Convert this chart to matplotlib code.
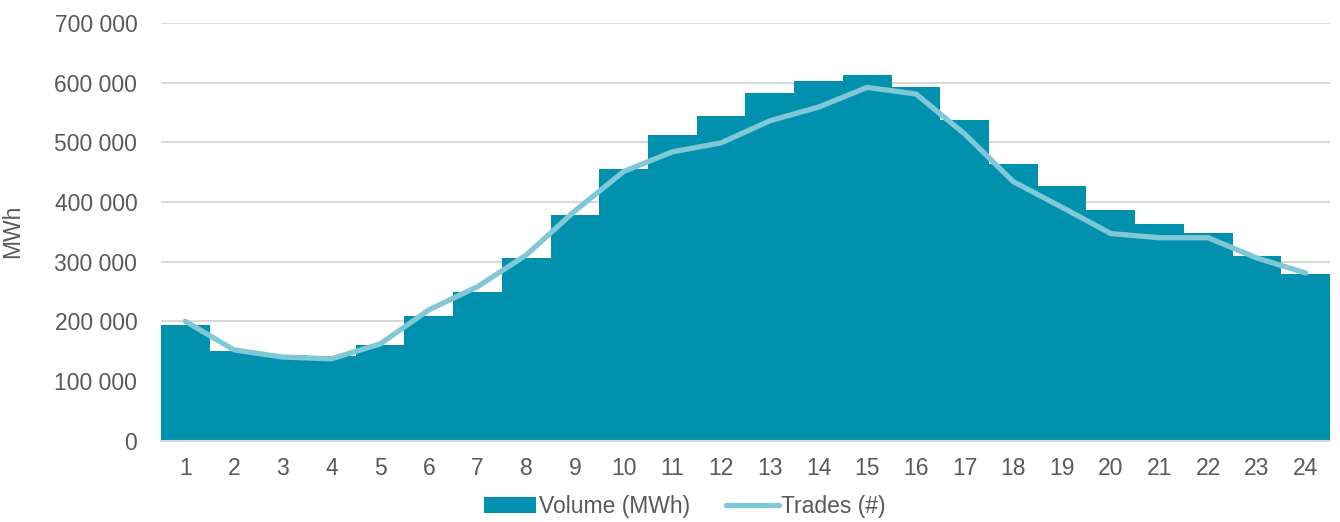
import numpy as np
import matplotlib
matplotlib.use("Agg")
import matplotlib.pyplot as plt
from matplotlib.ticker import FuncFormatter

hours = list(range(1, 25))
volume_mwh = [194000, 150000, 144000, 142000, 160000, 209000, 249000, 306000,
              378000, 455000, 513000, 544000, 582000, 602000, 612000, 592000,
              537000, 464000, 426000, 387000, 363000, 348000, 310000, 280000]
trades = [200000, 152000, 140000, 137000, 162000, 219000, 258000, 311000,
          385000, 451000, 484000, 499000, 536000, 559000, 592000, 581000,
          514000, 434000, 391000, 347000, 340000, 340000, 306000, 281000]

bar_color = "#0091AE"
line_color = "#80C8D6"
text_color = "#595959"
grid_color = "#D9D9D9"

plt.rcParams['font.family'] = ['Liberation Sans', 'DejaVu Sans']

fig = plt.figure(figsize=(13.4, 5.22), dpi=100)
ax = fig.add_axes([0.1201, 0.156, 0.8724, 0.8])

x = np.arange(len(hours))
bars = ax.bar(x, volume_mwh, width=1.0, color=bar_color, label="Volume (MWh)", zorder=2)
line, = ax.plot(x, trades, color=line_color, linewidth=3.8, solid_capstyle="round",
                label="Trades (#)", zorder=3)

ax.set_xlim(-0.5, len(hours) - 0.5)
ax.set_ylim(0, 700000)
ax.set_yticks(np.arange(0, 700001, 100000))
ax.yaxis.set_major_formatter(FuncFormatter(lambda v, p: f"{int(v):,}".replace(",", " ")))
ax.set_xticks(x)
ax.set_xticklabels([str(h) for h in hours])

ax.grid(axis="y", color=grid_color, linewidth=1.5, zorder=0)
ax.set_axisbelow(True)
for s in ["top", "right", "left"]:
    ax.spines[s].set_visible(False)
ax.spines["bottom"].set_color(grid_color)
ax.spines["bottom"].set_linewidth(1.5)
ax.tick_params(axis="both", length=0, labelsize=16.5, colors=text_color)
ax.tick_params(axis="x", pad=12)
ax.tick_params(axis="y", pad=17)

ax.set_ylabel("MWh", fontsize=16.5, color=text_color, labelpad=22)

ax.legend(handles=[bars, line], loc="center", bbox_to_anchor=(0.448, -0.159), ncol=2,
          frameon=False, fontsize=16.5, labelcolor=text_color, handlelength=2.3,
          handletextpad=0.1, columnspacing=1.6)

fig.savefig("out.png", dpi=100)
